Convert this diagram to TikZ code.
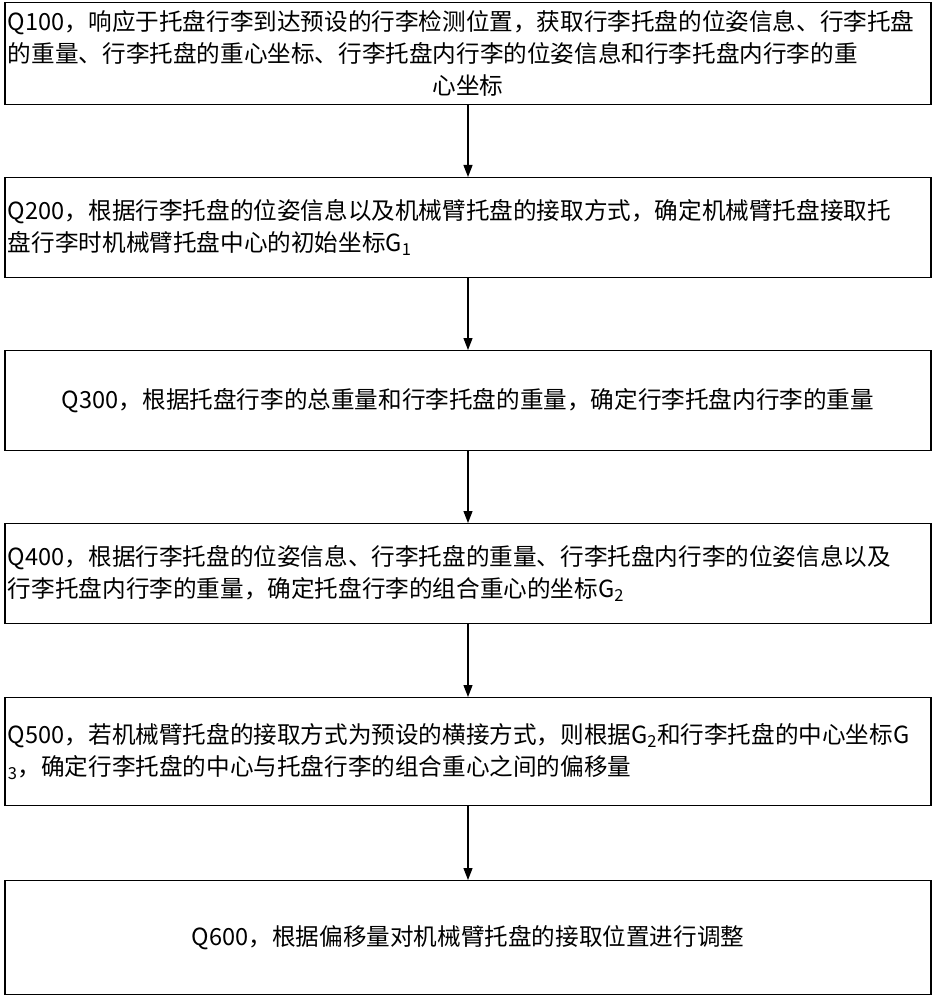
\documentclass[tikz,border=0pt]{standalone}
\usepackage{fontspec}
\setmainfont{Noto Sans CJK SC}
\usetikzlibrary{arrows.meta}
\begin{document}
\begin{tikzpicture}[x=1pt,y=-1pt,
  box/.style={draw,line width=1.2pt,minimum width=926pt,anchor=north,inner sep=0pt,font=\fontsize{23.6}{32}\selectfont},
  para/.style={box,text width=920pt,align=left},
  arr/.style={-{Triangle[length=12pt,width=9pt]},line width=1.2pt}]
\useasboundingbox (0,0) rectangle (936,1000);
\node[para,minimum height=102pt] (q1) at (468,2) {Q100，响应于托盘行李到达预设的行李检测位置，获取行李托盘的位姿信息、行李托盘\\的重量、行李托盘的重心坐标、行李托盘内行李的位姿信息和行李托盘内行李的重\\\makebox[\linewidth]{心坐标}};
\node[para,minimum height=100pt] (q2) at (468,177) {Q200，根据行李托盘的位姿信息以及机械臂托盘的接取方式，确定机械臂托盘接取托\\盘行李时机械臂托盘中心的初始坐标G\textsubscript{1}};
\node[box,minimum height=100pt] (q3) at (468,350) {Q300，根据托盘行李的总重量和行李托盘的重量，确定行李托盘内行李的重量};
\node[para,minimum height=100pt] (q4) at (468,523) {Q400，根据行李托盘的位姿信息、行李托盘的重量、行李托盘内行李的位姿信息以及\\行李托盘内行李的重量，确定托盘行李的组合重心的坐标G\textsubscript{2}};
\node[para,minimum height=108pt] (q5) at (468,697) {Q500，若机械臂托盘的接取方式为预设的横接方式，则根据G\textsubscript{2}和行李托盘的中心坐标G\\\textsubscript{3}，确定行李托盘的中心与托盘行李的组合重心之间的偏移量};
\node[box,minimum height=114pt] (q6) at (468,880) {Q600，根据偏移量对机械臂托盘的接取位置进行调整};
\draw[arr] (q1) -- (q2);
\draw[arr] (q2) -- (q3);
\draw[arr] (q3) -- (q4);
\draw[arr] (q4) -- (q5);
\draw[arr] (q5) -- (q6);
\end{tikzpicture}
\end{document}
